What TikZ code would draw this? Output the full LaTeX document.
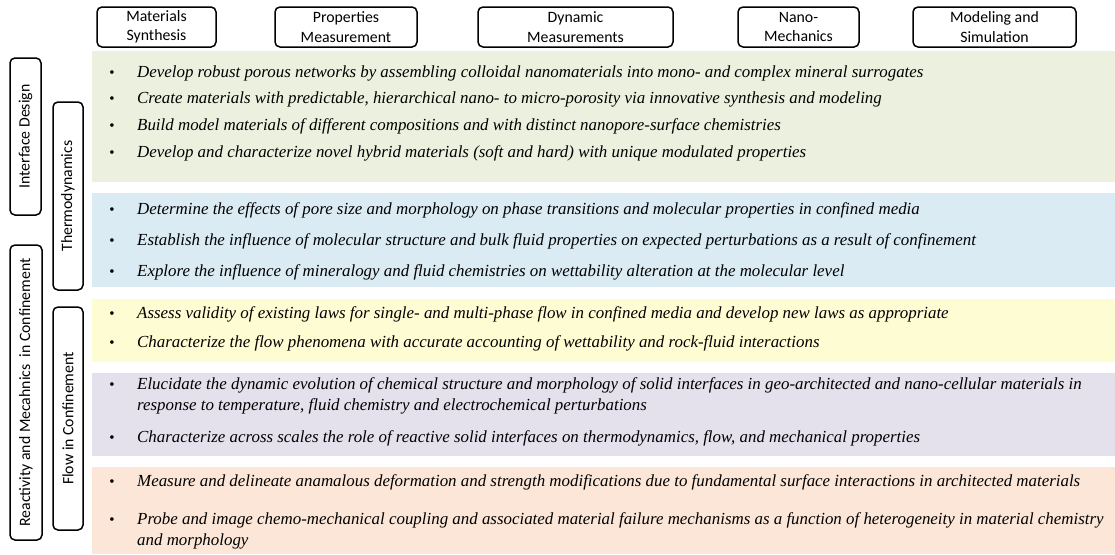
\documentclass[tikz,border=0pt]{standalone}
\usepackage{fontspec}
\setmainfont{Liberation Serif}
\newfontfamily\hdrfont{Carlito}
\definecolor{pgreen}{HTML}{EBF0DF}
\definecolor{pblue}{HTML}{DAEBF3}
\definecolor{pyellow}{HTML}{FEFCD2}
\definecolor{ppurple}{HTML}{E4E0EC}
\definecolor{porange}{HTML}{FCE6D7}
\begin{document}
\begin{tikzpicture}[x=1pt,y=-1pt,
  hdr/.style={draw=black, line width=1.5pt, rounded corners=5pt, align=center,
    font=\hdrfont\fontsize{15.8}{19.5}\selectfont, inner sep=0pt, minimum height=40pt},
  vbox/.style={draw=black, line width=1.5pt, rounded corners=5pt, rotate=90,
    font=\hdrfont\fontsize{15.8}{19}\selectfont, inner sep=0pt},
  item/.style={anchor=base west, font=\itshape\fontsize{16.9}{20}\selectfont, inner sep=0pt},
  bul/.style={anchor=base, font=\fontsize{15}{18}\selectfont, inner sep=0pt}]
\useasboundingbox (0,0) rectangle (1115,554);
\fill[white] (0,0) rectangle (1115,554);
% panels
\fill[pgreen]  (92,51)  rectangle (1115,182);
\fill[pblue]   (92,193) rectangle (1115,287);
\fill[pyellow] (92,299) rectangle (1115,362);
\fill[ppurple] (92,373) rectangle (1115,456);
\fill[porange] (92,467) rectangle (1115,554);
% header boxes
\node[hdr, minimum width=119pt] (ms)  at (156.5,27) {Materials\\Synthesis};
\node[hdr, minimum width=142pt] (pm)  at (346,27)   {Properties\\Measurement};
\node[hdr, minimum width=195pt] (dm)  at (575.5,27) {Dynamic\\Measurements};
\node[hdr, minimum width=121pt] (nm)  at (798.5,27) {Nano-\\Mechanics};
\node[hdr, minimum width=163pt] (mos) at (994.5,27) {Modeling and\\Simulation};
% vertical boxes
\node[vbox, minimum width=157pt, minimum height=31pt] (idz) at (25.5,136.5) {Interface Design};
\node[vbox, minimum width=188pt, minimum height=30pt] (thd) at (68,196) {Thermodynamics};
\node[vbox, minimum width=295pt, minimum height=32pt] (rmc) at (26,392.5) {Reactivity and Mecahnics\ \ in Confinement};
\node[vbox, minimum width=223pt, minimum height=30pt] (fic) at (68,418.5) {Flow in Confinement};
% bullets and items
\foreach \y/\n in {77/b1,103/b2,130/b3,157/b4,214/b5,245/b6,276/b7,318/b8,347/b9,389/b10,442/b11,486/b12,524/b13}
  \node[bul] (\n) at (112,\y) {•};
\node[item] (t1) at (137,77) {Develop robust porous networks by assembling colloidal nanomaterials into mono- and complex mineral surrogates};
\node[item] (t2) at (137,103) {Create materials with predictable, hierarchical nano- to micro-porosity via innovative synthesis and modeling};
\node[item] (t3) at (137,130) {Build model materials of different compositions and with distinct nanopore-surface chemistries};
\node[item] (t4) at (137,157) {Develop and characterize novel hybrid materials (soft and hard) with unique modulated properties};
\node[item] (t5) at (137,214) {Determine the effects of pore size and morphology on phase transitions and molecular properties in confined media};
\node[item] (t6) at (137,245) {Establish the influence of molecular structure and bulk fluid properties on expected perturbations as a result of confinement};
\node[item] (t7) at (137,276) {Explore the influence of mineralogy and fluid chemistries on wettability alteration at the molecular level};
\node[item] (t8) at (137,318) {Assess validity of existing laws for single- and multi-phase flow in confined media and develop new laws as appropriate};
\node[item] (t9) at (137,347) {Characterize the flow phenomena with accurate accounting of wettability and rock-fluid interactions};
\node[item] (t10) at (137,389) {Elucidate the dynamic evolution of chemical structure and morphology of solid interfaces in geo-architected and nano-cellular materials in};
\node[item] (t10b) at (137,410) {response to temperature, fluid chemistry and electrochemical perturbations};
\node[item] (t11) at (137,442) {Characterize across scales the role of reactive solid interfaces on thermodynamics, flow, and mechanical properties};
\node[item] (t12) at (137,486) {Measure and delineate anamalous deformation and strength modifications due to fundamental surface interactions in architected materials};
\node[item] (t13) at (137,524) {Probe and image chemo-mechanical coupling and associated material failure mechanisms as a function of heterogeneity in material chemistry};
\node[item] (t13b) at (137,545) {and morphology};
\end{tikzpicture}
\end{document}
